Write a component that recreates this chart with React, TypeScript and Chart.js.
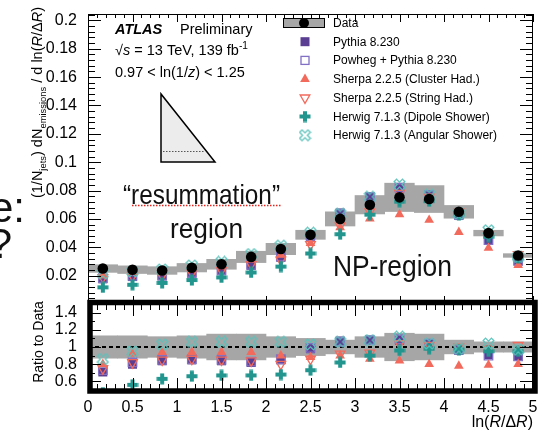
import React, { useEffect, useRef } from 'react';
import { Chart, registerables } from 'chart.js';

Chart.register(...registerables);

const FONT = '"Liberation Sans", Arial, Helvetica, sans-serif';

// ---------------- data ----------------
const binCenters = [0.1667, 0.5, 0.8333, 1.1667, 1.5, 1.8333, 2.1667, 2.5, 2.8333, 3.1667, 3.5, 3.8333, 4.1667, 4.5, 4.8333];
const dataValues = [0.025, 0.0242, 0.0236, 0.0256, 0.028, 0.0332, 0.0388, 0.0488, 0.06, 0.07, 0.0752, 0.074, 0.065, 0.05, 0.0342];
const dataSystHalf = [0.0027, 0.0027, 0.0027, 0.003, 0.0035, 0.004, 0.004, 0.0032, 0.005, 0.0065, 0.01, 0.0095, 0.0045, 0.002, 0.0013];
const ratioSystHalf = [0.13, 0.13, 0.12, 0.13, 0.15, 0.15, 0.12, 0.1, 0.08, 0.12, 0.16, 0.15, 0.08, 0.06, 0.06];
const ratioPythia = [0.71, 0.8, 0.84, 0.85, 0.84, 0.82, 0.85, 0.98, 1.07, 1.08, 1.08, 1.03, 0.96, 0.91, 0.89];
const ratioPowheg = [0.73, 0.82, 0.85, 0.86, 0.85, 0.83, 0.86, 0.99, 1.06, 1.08, 1.09, 1.04, 0.97, 0.9, 0.89];
const ratioSherpaCluster = [0.8, 0.92, 0.94, 0.94, 0.94, 0.94, 0.9, 0.88, 0.9, 0.86, 0.84, 0.8, 0.78, 0.79, 0.8];
const ratioSherpaString = [0.75, 0.82, 0.85, 0.86, 0.85, 0.84, 0.8, 0.86, 0.92, 0.93, 1.04, 1.02, 1.0, 0.98, 1.02];
const ratioHerwigDipole = [0.47, 0.56, 0.63, 0.66, 0.67, 0.67, 0.68, 0.73, 0.82, 0.9, 0.96, 0.98, 0.97, 0.95, 0.95];
const ratioHerwigAngular = [0.86, 0.95, 1.03, 1.06, 1.06, 1.06, 1.06, 1.03, 1.06, 1.08, 1.12, 1.04, 0.98, 1.04, 0.97];
const seriesLabels = [
  'Data',
  'Pythia 8.230',
  'Powheg + Pythia 8.230',
  'Sherpa 2.2.5 (Cluster Had.)',
  'Sherpa 2.2.5 (String Had.)',
  'Herwig 7.1.3 (Dipole Shower)',
  'Herwig 7.1.3 (Angular Shower)',
];
const xTickValues = [0, 0.5, 1, 1.5, 2, 2.5, 3, 3.5, 4, 4.5, 5];
const topYTickValues = [0.02, 0.04, 0.06, 0.08, 0.1, 0.12, 0.14, 0.16, 0.18, 0.2];
const ratioYTickValues = [0.6, 0.8, 1, 1.2, 1.4];
const xRange = [0, 5];
const topYRange = [0, 0.2045];
const ratioYRange = [0.5, 1.5];

const COLORS = {
  band: '#a6a6a6',
  pythia: '#5a3e92',
  powheg: '#8170c4',
  sherpa: '#f26a5c',
  dipole: '#21958e',
  angular: '#5cc2bb',
};

type Seg = { t: string; italic?: boolean; bold?: boolean; size?: number; dy?: number };

function segFont(s: Seg, size: number) {
  return `${s.italic ? 'italic ' : ''}${s.bold ? 'bold ' : ''}${(s.size ?? 1) * size}px ${FONT}`;
}

function richWidth(ctx: CanvasRenderingContext2D, segs: Seg[], size: number) {
  let w = 0;
  for (const s of segs) {
    ctx.font = segFont(s, size);
    w += ctx.measureText(s.t).width;
  }
  return w;
}

function drawRich(
  ctx: CanvasRenderingContext2D,
  segs: Seg[],
  x: number,
  y: number,
  size: number,
  align: 'left' | 'right' | 'center' = 'left',
  targetW?: number
) {
  const w = richWidth(ctx, segs, size);
  const sx = targetW ? targetW / w : 1;
  const totalW = w * sx;
  const start = align === 'left' ? x : align === 'right' ? x - totalW : x - totalW / 2;
  ctx.save();
  ctx.translate(start, y);
  ctx.scale(sx, 1);
  ctx.textAlign = 'left';
  ctx.textBaseline = 'alphabetic';
  let cx = 0;
  for (const s of segs) {
    ctx.font = segFont(s, size);
    ctx.fillText(s.t, cx, (s.dy ?? 0) * size);
    cx += ctx.measureText(s.t).width;
  }
  ctx.restore();
}

function makeCross(color: string, filled: boolean, rotated: boolean, size: number, arm: number, lw: number) {
  const c = document.createElement('canvas');
  c.width = size;
  c.height = size;
  const g = c.getContext('2d')!;
  g.translate(size / 2, size / 2);
  let h = size / 2 - 0.5 - lw / 2;
  if (rotated) {
    g.rotate(Math.PI / 4);
    h = (size / 2 - 0.5 - lw / 2) * Math.SQRT2 - arm;
  }
  const a = arm;
  const pts = [
    [-a, -h], [a, -h], [a, -a], [h, -a], [h, a], [a, a],
    [a, h], [-a, h], [-a, a], [-h, a], [-h, -a], [-a, -a],
  ];
  g.beginPath();
  pts.forEach(([px, py], i) => (i === 0 ? g.moveTo(px, py) : g.lineTo(px, py)));
  g.closePath();
  if (filled) {
    g.fillStyle = color;
    g.fill();
  } else {
    g.strokeStyle = color;
    g.lineWidth = lw;
    g.stroke();
  }
  return c;
}

type FrameOpts = {
  xMaj: number;
  xMin: number;
  yFrom: number;
  yStep: number;
  yCount: number;
  yMaj: number;
  yMin: number;
  isMajor: (v: number) => boolean;
};

function drawFrame(chart: any, o: FrameOpts) {
  const { ctx, chartArea: ca } = chart;
  const xs = chart.scales.x;
  const ys = chart.scales.y;
  ctx.save();
  ctx.strokeStyle = '#000';
  ctx.lineWidth = 1;
  ctx.beginPath();
  for (let k = 0; k <= 50; k++) {
    const px = Math.round(xs.getPixelForValue(k * 0.1)) + 0.5;
    const len = k % 5 === 0 ? o.xMaj : o.xMin;
    ctx.moveTo(px, ca.top);
    ctx.lineTo(px, ca.top + len);
    ctx.moveTo(px, ca.bottom);
    ctx.lineTo(px, ca.bottom - len);
  }
  for (let k = 0; k <= o.yCount; k++) {
    const v = o.yFrom + k * o.yStep;
    const py = Math.round(ys.getPixelForValue(v)) + 0.5;
    const len = o.isMajor(v) ? o.yMaj : o.yMin;
    ctx.moveTo(ca.left, py);
    ctx.lineTo(ca.left + len, py);
    ctx.moveTo(ca.right, py);
    ctx.lineTo(ca.right - len, py);
  }
  ctx.stroke();
  ctx.strokeRect(ca.left + 0.5, ca.top + 0.5, ca.right - ca.left - 1, ca.bottom - ca.top - 1);
  ctx.restore();
}

function drawMarker(ctx: CanvasRenderingContext2D, kind: string, x: number, y: number, color: string, img?: HTMLCanvasElement) {
  ctx.save();
  ctx.fillStyle = color;
  ctx.strokeStyle = color;
  ctx.lineWidth = 1.3;
  if (kind === 'rect') {
    ctx.fillRect(x - 4.5, y - 4.5, 9, 9);
  } else if (kind === 'rectOpen') {
    ctx.strokeRect(x - 4, y - 4, 8, 8);
  } else if (kind === 'tri' || kind === 'triDownOpen') {
    const r = 5.6;
    const s = kind === 'tri' ? 1 : -1;
    ctx.beginPath();
    ctx.moveTo(x, y - s * r);
    ctx.lineTo(x + r * 0.866, y + s * r * 0.5);
    ctx.lineTo(x - r * 0.866, y + s * r * 0.5);
    ctx.closePath();
    if (kind === 'tri') ctx.fill();
    else ctx.stroke();
  } else if (img) {
    ctx.drawImage(img, x - img.width / 2, y - img.height / 2);
  }
  ctx.restore();
}

export default function App() {
  const topRef = useRef<HTMLCanvasElement>(null);
  const ratioRef = useRef<HTMLCanvasElement>(null);

  useEffect(() => {
    const dipoleImg = makeCross(COLORS.dipole, true, false, 12, 2.0, 0);
    const angularImg = makeCross(COLORS.angular, false, true, 13, 1.7, 1.3);

    const mc = [
      { label: seriesLabels[1], ratio: ratioPythia, legend: 'rect', color: COLORS.pythia, img: undefined as any,
        style: { pointStyle: 'rect', pointRadius: 6.4, backgroundColor: COLORS.pythia, borderColor: COLORS.pythia, borderWidth: 0 } },
      { label: seriesLabels[2], ratio: ratioPowheg, legend: 'rectOpen', color: COLORS.powheg, img: undefined,
        style: { pointStyle: 'rect', pointRadius: 6.0, backgroundColor: 'rgba(0,0,0,0)', borderColor: COLORS.powheg, borderWidth: 1.3 } },
      { label: seriesLabels[3], ratio: ratioSherpaCluster, legend: 'tri', color: COLORS.sherpa, img: undefined,
        style: { pointStyle: 'triangle', pointRadius: 5.6, backgroundColor: COLORS.sherpa, borderColor: COLORS.sherpa, borderWidth: 0 } },
      { label: seriesLabels[4], ratio: ratioSherpaString, legend: 'triDownOpen', color: COLORS.sherpa, img: undefined,
        style: { pointStyle: 'triangle', pointRotation: 180, pointRadius: 5.6, backgroundColor: 'rgba(0,0,0,0)', borderColor: COLORS.sherpa, borderWidth: 1.3 } },
      { label: seriesLabels[5], ratio: ratioHerwigDipole, legend: 'img', color: COLORS.dipole, img: dipoleImg,
        style: { pointStyle: dipoleImg, pointRadius: 6 } },
      { label: seriesLabels[6], ratio: ratioHerwigAngular, legend: 'img', color: COLORS.angular, img: angularImg,
        style: { pointStyle: angularImg, pointRadius: 6 } },
    ];

    const topDatasets: any[] = [
      {
        type: 'bar',
        label: 'syst',
        data: binCenters.map((x, i) => ({ x, y: [dataValues[i] - dataSystHalf[i], dataValues[i] + dataSystHalf[i]] })),
        backgroundColor: COLORS.band,
        borderWidth: 0,
        barPercentage: 1,
        categoryPercentage: 1,
        order: 20,
      },
      ...mc.map((s, k) => ({
        type: 'scatter',
        label: s.label,
        data: binCenters.map((x, i) => ({ x, y: dataValues[i] * s.ratio[i] })),
        showLine: false,
        order: 10 - k,
        ...s.style,
      })),
      {
        type: 'scatter',
        label: seriesLabels[0],
        data: binCenters.map((x, i) => ({ x, y: dataValues[i] })),
        showLine: false,
        pointStyle: 'circle',
        pointRadius: 5.3,
        backgroundColor: '#000',
        borderColor: '#000',
        borderWidth: 0,
        order: 0,
      },
    ];

    const ratioDatasets: any[] = [
      {
        type: 'bar',
        label: 'syst',
        data: binCenters.map((x, i) => ({ x, y: [1 - ratioSystHalf[i], 1 + ratioSystHalf[i]] })),
        backgroundColor: COLORS.band,
        borderWidth: 0,
        barPercentage: 1,
        categoryPercentage: 1,
        order: 20,
      },
      {
        type: 'line',
        label: 'unity',
        data: [{ x: xRange[0], y: 1 }, { x: xRange[1], y: 1 }],
        borderColor: '#000',
        borderWidth: 1.8,
        borderDash: [4, 3],
        pointRadius: 0,
        order: 15,
      },
      ...mc.map((s, k) => ({
        type: 'scatter',
        label: s.label,
        data: binCenters.map((x, i) => ({ x, y: s.ratio[i] })),
        showLine: false,
        order: 10 - k,
        ...s.style,
      })),
    ];

    const topDecor = {
      id: 'topDecor',
      afterDraw(chart: any) {
        drawFrame(chart, {
          xMaj: 8, xMin: 4, yFrom: 0, yStep: 0.004, yCount: 51, yMaj: 13, yMin: 7,
          isMajor: (v) => Math.abs(v / 0.02 - Math.round(v / 0.02)) < 1e-6,
        });
        const ctx: CanvasRenderingContext2D = chart.ctx;
        ctx.save();
        ctx.fillStyle = '#000';

        // ATLAS label
        drawRich(ctx, [{ t: 'ATLAS', bold: true, italic: true }], 115, 34, 14.5);
        drawRich(ctx, [{ t: 'Preliminary' }], 180, 34, 14.5);
        drawRich(ctx, [{ t: '\u221A' }, { t: 's', italic: true }, { t: ' = 13 TeV, 139 fb' }, { t: '-1', size: 0.7, dy: -0.4 }], 115, 55, 14.5);
        drawRich(ctx, [{ t: '0.97 < ln(1/' }, { t: 'z', italic: true }, { t: ') < 1.25' }], 115, 77, 14.5);

        // triangle sketch
        ctx.beginPath();
        ctx.moveTo(161, 94);
        ctx.lineTo(161, 162);
        ctx.lineTo(215, 162);
        ctx.closePath();
        ctx.fillStyle = '#ececec';
        ctx.fill();
        ctx.strokeStyle = '#000';
        ctx.lineWidth = 1.5;
        ctx.stroke();
        ctx.beginPath();
        ctx.setLineDash([1.5, 1.5]);
        ctx.strokeStyle = '#555';
        ctx.lineWidth = 1;
        ctx.moveTo(163, 151.5);
        ctx.lineTo(205, 151.5);
        ctx.stroke();
        ctx.setLineDash([]);

        // legend
        const rowY = (i: number) => 23 + i * 18.7;
        ctx.fillStyle = COLORS.band;
        ctx.fillRect(283, 18, 42, 10);
        ctx.strokeStyle = '#000';
        ctx.lineWidth = 1;
        ctx.strokeRect(283.5, 18.5, 41, 9);
        ctx.fillStyle = '#000';
        ctx.beginPath();
        ctx.arc(304, rowY(0), 5, 0, Math.PI * 2);
        ctx.fill();
        mc.forEach((s, k) => drawMarker(ctx, s.legend, 305, rowY(k + 1), s.color, s.img));
        ctx.fillStyle = '#000';
        seriesLabels.forEach((lab, i) => drawRich(ctx, [{ t: lab }], 333, rowY(i) + 4, 12));

        // slide annotations
        ctx.fillStyle = '#111';
        drawRich(ctx, [{ t: '\u201Cresummation\u201D' }], 201.5, 204, 28, 'center', 157);
        ctx.beginPath();
        ctx.setLineDash([1.5, 1.5]);
        ctx.strokeStyle = '#e0261e';
        ctx.lineWidth = 1.5;
        ctx.moveTo(132, 205.5);
        ctx.lineTo(281, 205.5);
        ctx.stroke();
        ctx.setLineDash([]);
        drawRich(ctx, [{ t: 'region' }], 206.5, 238, 28, 'center', 73);
        drawRich(ctx, [{ t: 'NP-region' }], 392.5, 276, 29, 'center', 119);

        // cut-off slide text at the left edge
        drawRich(ctx, [{ t: 'e:' }], 25, 222, 42, 'right');
        drawRich(ctx, [{ t: '?' }], 12, 258, 42, 'right');

        // y-axis title (rotated)
        ctx.fillStyle = '#000';
        ctx.save();
        ctx.translate(42, 7);
        ctx.rotate(-Math.PI / 2);
        drawRich(
          ctx,
          [
            { t: '(1/N' },
            { t: 'jets', size: 0.65, dy: 0.3 },
            { t: ') dN' },
            { t: 'emissions', size: 0.65, dy: 0.3 },
            { t: ' / d ln(' },
            { t: 'R', italic: true },
            { t: '/\u0394' },
            { t: 'R', italic: true },
            { t: ')' },
          ],
          0,
          0,
          14.5,
          'right'
        );
        ctx.restore();
        ctx.restore();
      },
    };

    const ratioDecor = {
      id: 'ratioDecor',
      afterDraw(chart: any) {
        drawFrame(chart, {
          xMaj: 12, xMin: 6, yFrom: 0.5, yStep: 0.1, yCount: 10, yMaj: 13, yMin: 7,
          isMajor: (v) => Math.abs(v / 0.2 - Math.round(v / 0.2)) < 1e-6,
        });
        const ctx: CanvasRenderingContext2D = chart.ctx;
        ctx.save();
        ctx.fillStyle = '#000';
        ctx.save();
        ctx.translate(43, 342);
        ctx.rotate(-Math.PI / 2);
        drawRich(ctx, [{ t: 'Ratio to Data' }], 0, 0, 14, 'center');
        ctx.restore();
        drawRich(
          ctx,
          [{ t: 'ln(' }, { t: 'R', italic: true }, { t: '/\u0394' }, { t: 'R', italic: true }, { t: ')' }],
          533,
          427,
          16,
          'right'
        );
        // highlight box drawn on the slide
        ctx.strokeStyle = '#000';
        ctx.lineWidth = 5.5;
        ctx.strokeRect(90, 302.5, 445, 88.5);
        ctx.restore();
      },
    };

    const yScale = (range: number[], tickValues: number[], digits: number) => ({
      type: 'linear',
      min: range[0],
      max: range[1],
      grid: { display: false },
      border: { display: false },
      afterBuildTicks: (scale: any) => {
        scale.ticks = tickValues.map((v) => ({ value: v }));
      },
      ticks: {
        autoSkip: false,
        padding: 3,
        color: '#000',
        font: { family: FONT, size: 16 },
        callback: (v: any) => String(+Number(v).toFixed(digits)),
      },
      afterFit: (scale: any) => {
        scale.width = 88;
      },
    });

    const top = new Chart(topRef.current as HTMLCanvasElement, {
      type: 'scatter',
      data: { datasets: topDatasets },
      plugins: [topDecor],
      options: {
        responsive: false,
        animation: false,
        devicePixelRatio: 1,
        events: [],
        layout: { autoPadding: false, padding: { top: 14, left: 0, right: 12, bottom: 128 } },
        plugins: { legend: { display: false }, tooltip: { enabled: false } },
        scales: {
          x: {
            type: 'linear', min: xRange[0], max: xRange[1], offset: false, display: false,
            afterBuildTicks: (scale: any) => { scale.ticks = xTickValues.map((v) => ({ value: v })); },
          },
          y: yScale(topYRange, topYTickValues, 2),
        },
      } as any,
    });

    const ratio = new Chart(ratioRef.current as HTMLCanvasElement, {
      type: 'scatter',
      data: { datasets: ratioDatasets },
      plugins: [ratioDecor],
      options: {
        responsive: false,
        animation: false,
        devicePixelRatio: 1,
        events: [],
        layout: { autoPadding: false, padding: { top: 304, left: 0, right: 12, bottom: 0 } },
        plugins: { legend: { display: false }, tooltip: { enabled: false } },
        scales: {
          x: {
            type: 'linear',
            min: xRange[0],
            max: xRange[1],
            offset: false,
            grid: { display: false },
            border: { display: false },
            afterBuildTicks: (scale: any) => { scale.ticks = xTickValues.map((v) => ({ value: v })); },
            ticks: {
              autoSkip: false,
              maxRotation: 0,
              padding: 0,
              color: '#000',
              font: { family: FONT, size: 16 },
              callback: (v: any) => String(+Number(v).toFixed(1)),
            },
            afterFit: (scale: any) => {
              scale.height = 42;
            },
          },
          y: yScale(ratioYRange, ratioYTickValues, 1),
        },
      } as any,
    });

    return () => {
      top.destroy();
      ratio.destroy();
    };
  }, []);

  return (
    <div style={{ position: 'fixed', left: 0, top: 0, width: 545, height: 432, background: '#fff', overflow: 'hidden' }}>
      <canvas ref={topRef} width={545} height={432} style={{ position: 'absolute', left: 0, top: 0, width: 545, height: 432 }} />
      <canvas ref={ratioRef} width={545} height={432} style={{ position: 'absolute', left: 0, top: 0, width: 545, height: 432 }} />
    </div>
  );
}
